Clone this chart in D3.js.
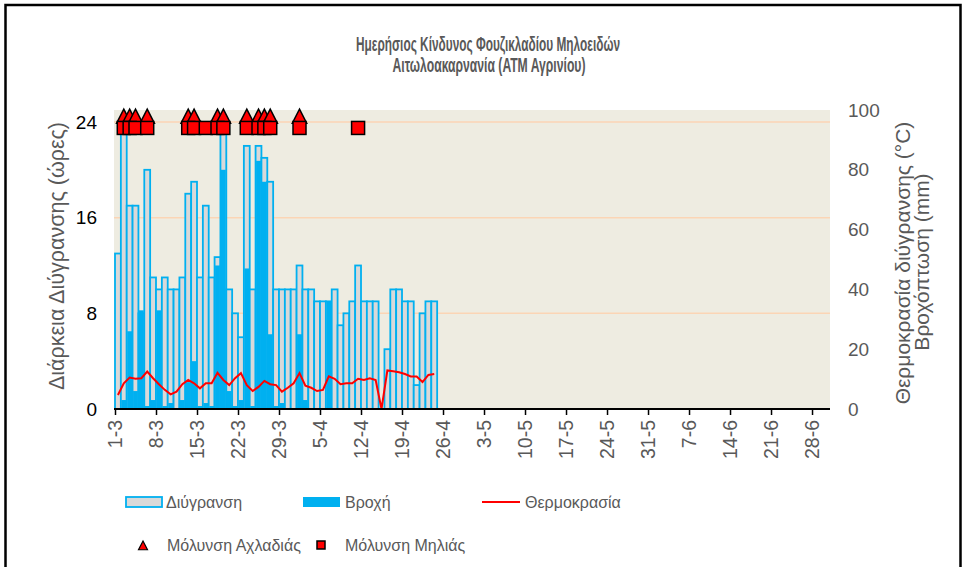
<!DOCTYPE html>
<html>
<head>
<meta charset="utf-8">
<script src="https://cdn.jsdelivr.net/npm/d3@7"></script>
<style>
  body { margin: 0; background: #fff; }
  text { font-family: "Liberation Sans", Arial, sans-serif; }
</style>
</head>
<body>
<div id="chart"></div>
<script>
var width = 964;
var height = 567;

// one value per day, starting 1-3
var wetness = [13, 24, 17, 17, 8, 20, 11, 10, 11, 10, 10, 11, 18, 19, 11, 17, 11, 12.7, 24, 10,
  8, 6, 22, 10, 22, 21, 19, 10, 10, 10, 10, 12, 10, 10, 9, 9, 9, 10, 7, 8,
  9, 12, 9, 9, 9, 0, 5, 10, 10, 9, 9, 2, 8, 9, 9];
var rain = [0, 3, 26, 6, 33, 1, 3, 33, 1, 2, 0, 3, 9, 16, 1, 2, 1, 48, 80, 6,
  1, 3, 47, 1, 83, 76, 25, 1, 2, 0, 0, 25, 3, 0, 0, 0, 36, 0, 0, 0,
  0, 0, 0, 0, 0, 0, 0, 0, 0, 0, 0, 0, 0, 0, 0];
var temperature = [4.7, 8.6, 10.5, 10.1, 10.3, 12.5, 10.3, 8.3, 6.4, 4.9, 5.8, 8.3, 9.7, 8.6, 6.9, 8.6, 8.6, 12.1, 9.7, 8.0,
  10.3, 12.0, 8.0, 6.0, 7.4, 9.4, 8.3, 8.0, 5.8, 7.1, 8.6, 12.0, 7.8, 7.1, 6.0, 6.4, 10.9, 10.1, 8.3, 8.6,
  8.6, 10.1, 9.7, 10.3, 9.7, 0, 12.9, 12.6, 12.3, 11.7, 10.9, 10.9, 9.0, 11.4, 11.7];
var pearDays = [1, 2, 3, 5, 12, 13, 17, 18, 22, 24, 25, 26, 31];
var appleDays = [1, 2, 3, 5, 12, 13, 15, 17, 18, 22, 24, 25, 26, 31, 41];
var pearLevel = 24.4;
var appleLevel = 23.5;
var tickLabels = ["1-3", "8-3", "15-3", "22-3", "29-3", "5-4", "12-4", "19-4", "26-4", "3-5",
  "10-5", "17-5", "24-5", "31-5", "7-6", "14-6", "21-6", "28-6"];
var totalDays = 122;

var plotLeft = 114, plotRight = 830, plotTop = 110, plotBottom = 409;
var blue = "#00B0F0", grey = "#D9D9D9", textGrey = "#595959";

var svg = d3.select("#chart")
  .append("svg")
  .attr("width", width)
  .attr("height", height);

svg.append("rect")
  .attr("x", 5.5).attr("y", 5)
  .attr("width", 955).attr("height", 600)
  .attr("fill", "none")
  .attr("stroke", "#000")
  .attr("stroke-width", 2.5);

var x = d3.scaleLinear().domain([0, totalDays]).range([115, 829.6]);
var yL = d3.scaleLinear().domain([0, 25]).range([plotBottom, plotTop]);
var yR = d3.scaleLinear().domain([0, 100]).range([plotBottom, plotTop]);

// plot background + gridlines
svg.append("rect")
  .attr("x", plotLeft).attr("y", plotTop)
  .attr("width", plotRight - plotLeft).attr("height", plotBottom - plotTop)
  .attr("fill", "#EEECE1");

svg.selectAll(".grid")
  .data([8, 16, 24])
  .enter().append("line")
  .attr("x1", plotLeft).attr("x2", plotRight)
  .attr("y1", d => yL(d)).attr("y2", d => yL(d))
  .attr("stroke", "#FBD5B5")
  .attr("stroke-width", 1.5);

// wetness bars, rain drawn over them
var wetG = svg.append("g");
wetness.forEach(function(d, i) {
  if (d <= 0) return;
  wetG.append("rect")
    .attr("x", x(i))
    .attr("width", x(i + 1) - x(i))
    .attr("y", yL(d))
    .attr("height", plotBottom - yL(d))
    .attr("fill", grey)
    .attr("stroke", blue)
    .attr("stroke-width", 1.8);
});

var rainG = svg.append("g");
rain.forEach(function(d, i) {
  if (d <= 0) return;
  rainG.append("rect")
    .attr("x", x(i) + 0.5)
    .attr("width", x(i + 1) - x(i) - 1)
    .attr("y", yR(d))
    .attr("height", plotBottom - yR(d))
    .attr("fill", blue);
});

// temperature
var line = d3.line()
  .x((d, i) => x(i + 0.5))
  .y(d => yR(d));

svg.append("path")
  .datum(temperature)
  .attr("d", line)
  .attr("fill", "none")
  .attr("stroke", "#FF0000")
  .attr("stroke-width", 2);

// infection markers
function triangle(cx, cy, s) {
  return "M" + cx + "," + (cy - s) + "L" + (cx + s * 0.9) + "," + (cy + s * 0.75) +
    "L" + (cx - s * 0.9) + "," + (cy + s * 0.75) + "Z";
}

svg.append("g").selectAll("path")
  .data(pearDays)
  .enter().append("path")
  .attr("d", d => triangle(x(d + 0.5), yL(pearLevel), 8))
  .attr("fill", "#FF0000")
  .attr("stroke", "#000")
  .attr("stroke-width", 1.5);

svg.append("g").selectAll("rect")
  .data(appleDays)
  .enter().append("rect")
  .attr("x", d => x(d + 0.5) - 6.5)
  .attr("y", yL(appleLevel) - 6.5)
  .attr("width", 13).attr("height", 13)
  .attr("fill", "#FF0000")
  .attr("stroke", "#000")
  .attr("stroke-width", 1.5);

// x axis
var xAxis = d3.axisBottom(x)
  .tickValues(d3.range(0, 120, 7))
  .tickFormat((d, i) => tickLabels[i])
  .tickSize(6)
  .tickSizeOuter(0);

var gx = svg.append("g")
  .attr("transform", "translate(0," + plotBottom + ")")
  .call(xAxis);
gx.select(".domain")
  .attr("d", "M" + plotLeft + ",0H" + plotRight)
  .attr("stroke", "#000").attr("stroke-width", 2);
gx.selectAll(".tick line").attr("stroke", "#000").attr("stroke-width", 1.5);
gx.selectAll(".tick text")
  .attr("transform", "rotate(-90)")
  .attr("x", -11).attr("y", 0).attr("dy", "0.35em")
  .attr("text-anchor", "end")
  .attr("fill", textGrey)
  .style("font-size", "19.5px");

// left axis
var gl = svg.append("g")
  .attr("transform", "translate(97,0)")
  .call(d3.axisLeft(yL).tickValues([0, 8, 16, 24]).tickSize(0).tickPadding(0));
gl.select(".domain").remove();
gl.selectAll("text").attr("fill", "#000").style("font-size", "19px");

// right axis
var gr = svg.append("g")
  .attr("transform", "translate(848,0)")
  .call(d3.axisRight(yR).tickValues([0, 20, 40, 60, 80, 100]).tickSize(0).tickPadding(0));
gr.select(".domain").remove();
gr.selectAll("text").attr("fill", textGrey).style("font-size", "19px");

// axis titles
svg.append("text")
  .attr("transform", "translate(64,256) rotate(-90)")
  .attr("text-anchor", "middle")
  .attr("fill", textGrey)
  .style("font-size", "21.5px")
  .text("Διάρκεια Διύγρανσης (ώρες)");

svg.append("text")
  .attr("transform", "translate(910,263) rotate(-90)")
  .attr("text-anchor", "middle")
  .attr("fill", textGrey)
  .style("font-size", "21px")
  .text("Θερμοκρασία διύγρανσης (°C)");

svg.append("text")
  .attr("transform", "translate(929,262) rotate(-90)")
  .attr("text-anchor", "middle")
  .attr("fill", textGrey)
  .style("font-size", "21px")
  .text("Βροχόπτωση (mm)");

// title
var title = svg.append("text")
  .attr("text-anchor", "middle")
  .attr("fill", textGrey)
  .style("font-size", "19.5px")
  .style("font-weight", "bold");
title.append("tspan").attr("x", 488).attr("y", 51)
  .attr("textLength", 264).attr("lengthAdjust", "spacingAndGlyphs")
  .text("Ημερήσιος Κίνδυνος Φουζικλαδίου Μηλοειδών");
title.append("tspan").attr("x", 489).attr("y", 72)
  .attr("textLength", 193).attr("lengthAdjust", "spacingAndGlyphs")
  .text("Αιτωλοακαρνανία (ΑΤΜ Αγρινίου)");

// legend
var lg = svg.append("g").style("font-size", "16px").attr("fill", textGrey);

lg.append("rect").attr("x", 126).attr("y", 497).attr("width", 36).attr("height", 10)
  .attr("fill", grey).attr("stroke", blue).attr("stroke-width", 1.8);
lg.append("text").attr("x", 166).attr("y", 508).text("Διύγρανση");

lg.append("rect").attr("x", 303).attr("y", 497).attr("width", 37).attr("height", 10)
  .attr("fill", blue);
lg.append("text").attr("x", 345).attr("y", 508).text("Βροχή");

lg.append("line").attr("x1", 482).attr("x2", 520).attr("y1", 502).attr("y2", 502)
  .attr("stroke", "#FF0000").attr("stroke-width", 2);
lg.append("text").attr("x", 525).attr("y", 508).text("Θερμοκρασία");

lg.append("path").attr("d", triangle(143, 546, 5))
  .attr("fill", "#FF0000").attr("stroke", "#000").attr("stroke-width", 1.2);
lg.append("text").attr("x", 167).attr("y", 551).text("Μόλυνση Αχλαδιάς");

lg.append("rect").attr("x", 317).attr("y", 541).attr("width", 8).attr("height", 8)
  .attr("fill", "#FF0000").attr("stroke", "#000").attr("stroke-width", 1.5);
lg.append("text").attr("x", 345).attr("y", 551).text("Μόλυνση Μηλιάς");
</script>
</body>
</html>
